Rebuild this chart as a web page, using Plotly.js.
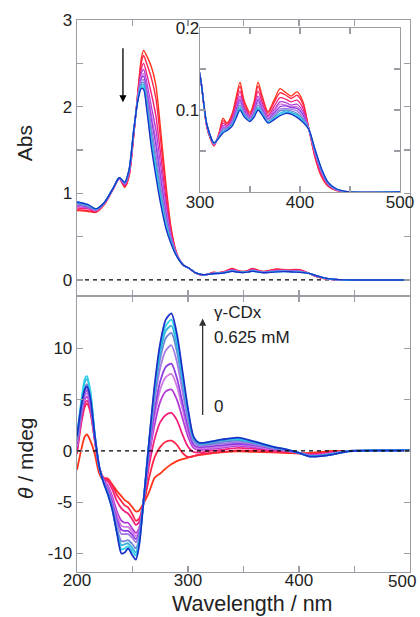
<!DOCTYPE html>
<html>
<head>
<meta charset="utf-8">
<script src="https://cdn.plot.ly/plotly-3.0.1.min.js"></script>
<style>html,body{margin:0;padding:0;background:#fff;}#chart{width:420px;height:617px;}</style>
</head>
<body>
<div id="chart"></div>
<script>
// ---- Wavelength grids (nm) ----
const wlAbs = [200,210,217,225,233,238,243,247,251,255,258,260,263,267,271,275,280,285,290,296,301,307,314,319,323,327,332,336,340,344,350,354,358,362,368,374,380,386,391,397,403,409,415,421,428,436,450,500];
const wlCD  = [200,204,207,209,212,216,220,224,228,232,236,240,243,246,250,253,256,259,262,265,270,275,280,285,290,295,300,305,310,320,330,345,360,375,390,400,410,420,430,445,470,500];

// ---- Absorbance spectra, 0 mM (abs_0) to 0.625 mM gamma-CDx (abs_10) ----
const abs_0  = [.80,.79,.78,.88,1.06,1.17,1.07,1.20,1.65,2.20,2.56,2.65,2.58,2.46,2.25,1.78,1.12,.58,.30,.17,.135,.078,.056,.072,.090,.084,.095,.115,.134,.112,.097,.110,.134,.118,.098,.112,.126,.121,.117,.122,.110,.076,.042,.020,.007,.002,0,0];
const abs_1  = [.81,.80,.79,.88,1.06,1.17,1.08,1.21,1.66,2.18,2.51,2.59,2.49,2.33,2.10,1.66,1.05,.56,.30,.17,.135,.078,.057,.071,.087,.083,.093,.112,.129,.109,.095,.107,.129,.115,.096,.109,.121,.118,.114,.118,.107,.076,.043,.021,.008,.002,0,0];
const abs_2  = [.83,.82,.79,.89,1.06,1.17,1.09,1.23,1.67,2.16,2.44,2.50,2.37,2.15,1.90,1.49,.95,.52,.29,.17,.135,.079,.057,.070,.084,.081,.090,.107,.123,.105,.093,.104,.123,.110,.093,.104,.115,.113,.110,.112,.102,.076,.045,.023,.009,.003,0,0];
const abs_3  = [.85,.83,.80,.89,1.06,1.17,1.10,1.24,1.68,2.14,2.39,2.43,2.27,2.00,1.74,1.35,.87,.50,.29,.17,.135,.080,.058,.069,.081,.080,.088,.103,.117,.102,.092,.101,.117,.106,.091,.100,.110,.109,.106,.107,.098,.076,.047,.025,.009,.003,0,0];
const abs_4  = [.86,.84,.80,.89,1.07,1.17,1.11,1.25,1.69,2.13,2.35,2.38,2.21,1.91,1.63,1.26,.81,.48,.29,.17,.135,.080,.058,.068,.079,.079,.086,.100,.114,.100,.091,.099,.114,.104,.090,.098,.107,.106,.104,.104,.095,.076,.048,.026,.010,.003,0,0];
const abs_5  = [.87,.84,.81,.89,1.07,1.18,1.11,1.25,1.70,2.12,2.33,2.35,2.16,1.85,1.56,1.20,.78,.47,.28,.17,.135,.080,.059,.068,.078,.078,.085,.099,.112,.099,.090,.097,.112,.102,.089,.096,.104,.105,.103,.102,.094,.076,.049,.027,.010,.003,0,0];
const abs_6  = [.88,.85,.81,.90,1.07,1.18,1.12,1.26,1.70,2.11,2.30,2.31,2.11,1.76,1.46,1.12,.73,.45,.28,.17,.135,.081,.059,.068,.077,.077,.084,.096,.109,.097,.089,.096,.109,.100,.088,.094,.101,.102,.101,.099,.091,.076,.050,.028,.011,.003,0,0];
const abs_7  = [.88,.85,.81,.90,1.07,1.18,1.12,1.27,1.71,2.10,2.27,2.28,2.06,1.69,1.38,1.05,.69,.44,.28,.17,.135,.081,.059,.067,.075,.077,.083,.094,.106,.095,.088,.094,.106,.098,.086,.092,.099,.100,.099,.096,.089,.076,.050,.028,.011,.004,0,0];
const abs_8  = [.89,.86,.82,.90,1.07,1.18,1.12,1.27,1.71,2.09,2.25,2.25,2.01,1.62,1.31,.99,.65,.43,.27,.17,.135,.081,.060,.067,.074,.076,.082,.093,.103,.094,.087,.093,.103,.096,.085,.090,.096,.099,.097,.094,.088,.076,.051,.029,.011,.004,0,0];
const abs_9  = [.90,.87,.82,.90,1.07,1.18,1.13,1.28,1.72,2.09,2.23,2.22,1.98,1.58,1.25,.94,.63,.42,.27,.17,.135,.082,.060,.066,.073,.075,.081,.091,.102,.093,.087,.092,.102,.095,.085,.089,.095,.097,.096,.093,.086,.076,.052,.030,.012,.004,0,0];
const abs_10 = [.90,.87,.82,.90,1.07,1.18,1.13,1.28,1.72,2.08,2.21,2.20,1.95,1.53,1.20,.90,.60,.41,.27,.17,.135,.082,.060,.066,.072,.075,.080,.090,.100,.092,.086,.091,.100,.094,.084,.088,.093,.096,.095,.091,.085,.076,.052,.030,.012,.004,0,0];

// ---- CD spectra (mdeg) ----
const cd_0  = [-1.85,0.2,1.4,1.6,1.0,-0.3,-2.2,-2.9,-2.8,-3.3,-3.9,-4.4,-4.8,-5.0,-5.5,-5.9,-5.8,-5.3,-4.7,-4.0,-2.6,-2.2,-1.7,-1.3,-1.0,-0.8,-0.65,-0.5,-0.4,-0.25,-0.15,-0.05,-0.1,-0.15,-0.2,-0.25,-0.2,-0.1,0,0,0,0];
const cd_1  = [-0.3,2.8,4.3,4.6,3.8,1.0,-1.6,-2.6,-2.7,-3.4,-4.3,-4.9,-5.3,-5.5,-6.2,-6.8,-6.6,-5.6,-4.2,-2.6,-0.6,0.4,0.9,1.0,0.6,-0.2,-0.6,-0.5,-0.35,-0.2,-0.1,0.05,0,-0.1,-0.15,-0.2,-0.3,-0.2,-0.1,0,0,0];
const cd_2  = [0,3.0,4.6,4.9,4.0,1.1,-1.6,-2.7,-3.0,-3.8,-4.9,-5.6,-5.9,-6.1,-6.7,-7.2,-6.9,-5.4,-3.5,-1.4,1.2,2.8,3.5,3.7,3.0,1.6,0.4,-0.1,-0.15,0,0.1,0.3,0.2,0.05,-0.05,-0.2,-0.35,-0.3,-0.15,0,0,0];
const cd_3  = [0.3,3.4,5.0,5.3,4.3,1.2,-1.6,-2.8,-3.4,-4.5,-5.9,-6.8,-7.0,-7.0,-7.6,-8.0,-7.5,-5.6,-3.2,-0.6,2.6,4.8,5.8,6.0,5.0,3.2,1.4,0.3,0.1,0.2,0.3,0.5,0.35,0.15,0,-0.2,-0.4,-0.35,-0.2,0,0,0];
const cd_4  = [0.5,3.6,5.3,5.6,4.6,1.3,-1.6,-2.9,-3.6,-4.8,-6.3,-7.3,-7.4,-7.4,-7.9,-8.3,-7.7,-5.7,-3.0,-0.2,3.4,6.0,7.2,7.5,6.3,4.1,1.9,0.5,0.25,0.3,0.4,0.6,0.45,0.2,0,-0.2,-0.45,-0.4,-0.25,0,0,0];
const cd_5  = [0.7,3.8,5.6,5.9,4.8,1.4,-1.6,-3.0,-3.8,-5.1,-6.7,-7.7,-7.8,-7.8,-8.2,-8.6,-7.9,-5.8,-2.9,0.1,4.0,6.8,8.2,8.5,7.1,4.7,2.3,0.6,0.35,0.45,0.55,0.7,0.55,0.25,0.05,-0.2,-0.5,-0.45,-0.3,0,0,0];
const cd_6  = [0.9,4.0,5.8,6.1,5.0,1.4,-1.6,-3.0,-4.0,-5.4,-7.1,-8.1,-8.1,-8.1,-8.5,-8.9,-8.1,-5.8,-2.7,0.5,4.9,8.1,9.8,10.3,8.7,5.8,2.9,0.9,0.5,0.6,0.7,0.85,0.65,0.3,0.05,-0.2,-0.5,-0.45,-0.3,0,0.05,0.05];
const cd_7  = [1.1,4.3,6.2,6.5,5.3,1.5,-1.6,-3.1,-4.1,-5.6,-7.6,-8.8,-8.8,-8.7,-9.1,-9.5,-8.5,-5.9,-2.6,0.8,5.5,9.0,11.0,11.5,9.7,6.6,3.4,1.1,0.6,0.7,0.85,1.0,0.75,0.35,0.1,-0.2,-0.5,-0.45,-0.3,0,0.05,0.05];
const cd_8  = [1.3,4.7,6.7,7.0,5.7,1.6,-1.6,-3.1,-4.2,-5.7,-7.9,-9.2,-9.1,-9.0,-9.5,-9.9,-8.8,-6.0,-2.6,0.9,5.9,9.6,11.7,12.2,10.3,7.0,3.7,1.2,0.7,0.8,1.0,1.1,0.8,0.4,0.1,-0.2,-0.5,-0.45,-0.3,0,0.05,0.05];
const cd_9  = [1.5,5.0,7.0,7.3,5.9,1.7,-1.5,-3.1,-4.3,-5.8,-8.0,-9.6,-9.5,-9.3,-9.8,-10.2,-9.0,-6.0,-2.5,1.0,6.2,10.1,12.2,12.8,10.9,7.4,3.9,1.3,0.8,0.9,1.1,1.2,0.9,0.45,0.1,-0.2,-0.55,-0.5,-0.35,-0.05,0.05,0.05];
const cd_10 = [1.4,4.5,6.0,6.3,5.2,1.5,-1.5,-3.1,-4.3,-5.8,-8.0,-10.0,-9.9,-9.5,-10.2,-10.6,-9.2,-6.0,-2.5,1.0,6.5,10.5,12.8,13.4,11.4,7.8,4.1,1.4,0.8,0.9,1.1,1.3,0.9,0.45,0.1,-0.2,-0.55,-0.5,-0.35,-0.05,0.05,0.05];

// ---- Tick labels ----
const xTickVals = [200,250,300,350,400,450,500];
const xTickText = ['200','','300','','400','',''];
const xLastLabel = '500';
const absTickVals = [0,0.5,1,1.5,2,2.5,3];
const absTickText = ['0','','1','','2','','3'];
const cdTickVals = [-10,-5,0,5,10];
const cdTickText = ['-10','-5','0','5','10'];
const insetXVals = [300,350,400,450,500];
const insetXText = ['300','','400','','500'];
const insetYVals = [0,0.05,0.1,0.15,0.2];
const insetYText = ['','','0.1','','0.2'];

const colors = ['#ff3418','#ff2448','#f3207c','#b43ad6','#d27ae4','#8e3ee0','#a47ae6','#6e86d6','#34b2dc','#2ed2ea','#1c30c8'];

const absSeries = [abs_0,abs_1,abs_2,abs_3,abs_4,abs_5,abs_6,abs_7,abs_8,abs_9,abs_10];
const cdSeries = [cd_0,cd_1,cd_2,cd_3,cd_4,cd_5,cd_6,cd_7,cd_8,cd_9,cd_10];

const traces = [];
absSeries.forEach((s,i)=>{
  traces.push({x:wlAbs, y:s, xaxis:'x2', yaxis:'y2', type:'scatter', mode:'lines',
    line:{color:colors[i], width:1.4, shape:'spline', smoothing:0.7}, hoverinfo:'skip', showlegend:false});
});
absSeries.forEach((s,i)=>{
  traces.push({x:wlAbs, y:s, xaxis:'x3', yaxis:'y3', type:'scatter', mode:'lines',
    line:{color:colors[i], width:1.3, shape:'spline', smoothing:0.7}, hoverinfo:'skip', showlegend:false});
});
cdSeries.forEach((s,i)=>{
  traces.push({x:wlCD, y:s, xaxis:'x', yaxis:'y', type:'scatter', mode:'lines',
    line:{color:colors[i], width:1.8, shape:'spline', smoothing:0.7}, hoverinfo:'skip', showlegend:false});
});

const FONT = 'Liberation Sans, Arial, Helvetica, sans-serif';
const frame = '#9c9ca4';
const tickFont = {family:FONT, size:17, color:'#222'};
function axisBase(extra){
  return Object.assign({showgrid:false, zeroline:false, showline:true, linecolor:frame, linewidth:1.3,
    mirror:'ticks', ticks:'inside', ticklen:6, tickcolor:frame, tickwidth:1.2, tickfont:tickFont,
    tickmode:'array', ticklabeloverflow:'allow'}, extra);
}

const layout = {
  width:420, height:617,
  margin:{l:77, r:10, t:20, b:45},
  paper_bgcolor:'#fff', plot_bgcolor:'#fff',
  showlegend:false,
  xaxis: axisBase({domain:[0,1], anchor:'y', range:[200,500], tickvals:xTickVals, ticktext:xTickText, ticklabelstandoff:-8}),
  yaxis: axisBase({domain:[0,0.5], anchor:'x', range:[-11.8,15.1], tickvals:cdTickVals, ticktext:cdTickText}),
  xaxis2: axisBase({domain:[0,1], anchor:'y2', range:[200,500], tickvals:xTickVals, showticklabels:false}),
  yaxis2: axisBase({domain:[0.5,1], anchor:'x2', range:[-0.185,3], tickvals:absTickVals, ticktext:absTickText}),
  xaxis3: axisBase({domain:[0.3694,0.97], anchor:'y3', range:[300,500], tickvals:insetXVals, ticktext:insetXText, ticklabelstandoff:-6}),
  yaxis3: axisBase({domain:[0.6884,0.9855], anchor:'x3', range:[0,0.2], tickvals:insetYVals, ticktext:insetYText, ticklabelstandoff:-4}),
  shapes:[
    {type:'line', xref:'x2', yref:'y2', x0:200, x1:500, y0:0, y1:0, line:{color:'#000', width:1.2, dash:'4px,4px'}, layer:'below'},
    {type:'line', xref:'x', yref:'y', x0:200, x1:500, y0:0, y1:0, line:{color:'#000', width:1.2, dash:'4px,4px'}, layer:'above'}
  ],
  annotations:[
    {xref:'x2', yref:'y2', axref:'x2', ayref:'y2', x:241.4, y:2.05, ax:241.4, ay:2.69, text:'', showarrow:true,
      arrowhead:2, arrowsize:1.1, arrowwidth:1.3, arrowcolor:'#000'},
    {xref:'x', yref:'y', axref:'x', ayref:'y', x:313.2, y:12.9, ax:313.2, ay:3.35, text:'', showarrow:true,
      arrowhead:2, arrowsize:1.1, arrowwidth:1.3, arrowcolor:'#333'},
    {xref:'x', yref:'y', x:321.5, y:13.5, text:'γ-CDx', showarrow:false, xanchor:'left', yanchor:'middle', font:{family:FONT, size:17, color:'#222'}},
    {xref:'x', yref:'y', x:321.5, y:11.1, text:'0.625 mM', showarrow:false, xanchor:'left', yanchor:'middle', font:{family:FONT, size:17, color:'#222'}},
    {xref:'x', yref:'y', x:321.5, y:4.3, text:'0', showarrow:false, xanchor:'left', yanchor:'middle', font:{family:FONT, size:17, color:'#222'}},
    {xref:'paper', yref:'paper', x:1.024, y:-0.0165, text:xLastLabel, showarrow:false, xanchor:'right', yanchor:'middle', font:tickFont},
    {xref:'paper', yref:'paper', x:-0.159, y:0.777, text:'Abs', textangle:-90, showarrow:false, xanchor:'center', yanchor:'middle', font:{family:FONT, size:21, color:'#222'}},
    {xref:'paper', yref:'paper', x:-0.153, y:0.205, text:'<i>θ</i> / mdeg', textangle:-90, showarrow:false, xanchor:'center', yanchor:'middle', font:{family:FONT, size:21, color:'#222'}},
    {xref:'paper', yref:'paper', x:0.527, y:-0.058, text:'Wavelength / nm', showarrow:false, xanchor:'center', yanchor:'middle', font:{family:FONT, size:21.5, color:'#222'}}
  ]
};

Plotly.newPlot('chart', traces, layout, {staticPlot:true, displayModeBar:false});
</script>
</body>
</html>
